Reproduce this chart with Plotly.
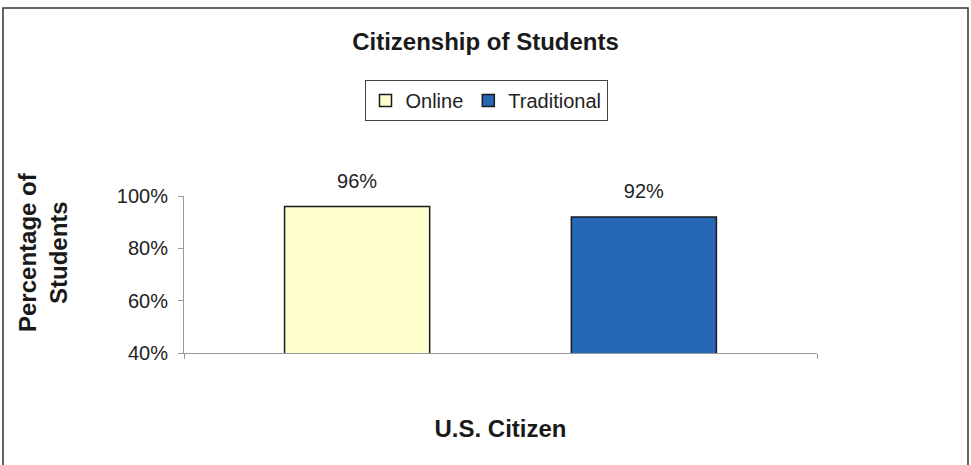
import plotly.graph_objects as go

category = ["U.S. Citizen"]
series_names = ["Online", "Traditional"]
online_values = [96]
traditional_values = [92]
y_ticks = [40, 60, 80, 100]
y_tick_labels = ["40%", "60%", "80%", "100%"]

colors = {"Online": "#FFFFCC", "Traditional": "#2667B6"}
FONT = "Liberation Sans, Arial, sans-serif"

W, H = 971, 465
L, R, T, B = 184, 154, 196, 112
pw, ph = W - L - R, H - T - B

def px_x(px):
    return (px - L) / pw

def px_y(py):
    return (H - B - py) / ph

fig = go.Figure()
for name, vals in zip(series_names, [online_values, traditional_values]):
    fig.add_trace(go.Bar(
        name=name, x=category, y=vals, offsetgroup=name,
        marker=dict(color=colors[name], line=dict(color="#1a1a1a", width=1.5)),
        hoverinfo="skip",
    ))
for name, vals in zip(series_names, [online_values, traditional_values]):
    fig.add_trace(go.Scatter(
        x=category, y=vals, offsetgroup=name, mode="markers+text",
        text=[f"{v}%" for v in vals], textposition="top center",
        textfont=dict(family=FONT, size=20, color="#222222"),
        marker=dict(size=20, opacity=0), showlegend=False, cliponaxis=False,
        hoverinfo="skip",
    ))

fig.update_layout(
    width=W, height=H,
    margin=dict(l=L, r=R, t=T, b=B),
    paper_bgcolor="white", plot_bgcolor="white",
    barmode="group", bargap=0.094, bargroupgap=0.494,
    scattermode="group", scattergap=0.094,
    font=dict(family=FONT, size=20, color="#222222"),
    title=dict(text="<b>Citizenship of Students</b>", x=485.5 / W, xanchor="center",
               y=1 - 42 / H, yanchor="middle", yref="container",
               font=dict(family=FONT, size=24, color="#1a1a1a")),
    legend=dict(orientation="h", x=px_x(486), xanchor="center", y=px_y(100.5), yanchor="middle",
                bordercolor="#444444", borderwidth=1, bgcolor="white",
                font=dict(family=FONT, size=20, color="#222222"),
                itemwidth=30, tracegroupgap=0),
    showlegend=True,
    xaxis=dict(type="category", range=[-0.5, 0.5], showticklabels=False,
               showline=True, linecolor="#999999", linewidth=1,
               ticks="outside", tickson="boundaries", ticklen=5, tickcolor="#999999",
               showgrid=False, zeroline=False,
               title=dict(text="<b>U.S. Citizen</b>", standoff=67,
                          font=dict(family=FONT, size=24, color="#1a1a1a"))),
    yaxis=dict(range=[40, 100], tickvals=y_ticks, ticktext=y_tick_labels,
               showline=True, linecolor="#999999", linewidth=1,
               ticks="outside", ticklen=5, tickcolor="#999999",
               ticklabelstandoff=6,
               showgrid=False, zeroline=False,
               tickfont=dict(family=FONT, size=20, color="#222222")),
    annotations=[dict(text="<b>Percentage of<br>Students</b>", textangle=-90,
                      xref="paper", yref="paper", x=px_x(43), y=px_y(252),
                      xanchor="center", yanchor="middle", showarrow=False,
                      font=dict(family=FONT, size=24, color="#1a1a1a"))],
    shapes=[dict(type="rect", xref="paper", yref="paper",
                 x0=px_x(3), x1=px_x(968), y0=px_y(475), y1=px_y(8),
                 line=dict(color="#333333", width=1.5), fillcolor="rgba(0,0,0,0)",
                 layer="below")],
)

fig.write_html("out.html", config={"displayModeBar": False},
               post_script="document.body.style.margin='0';")
